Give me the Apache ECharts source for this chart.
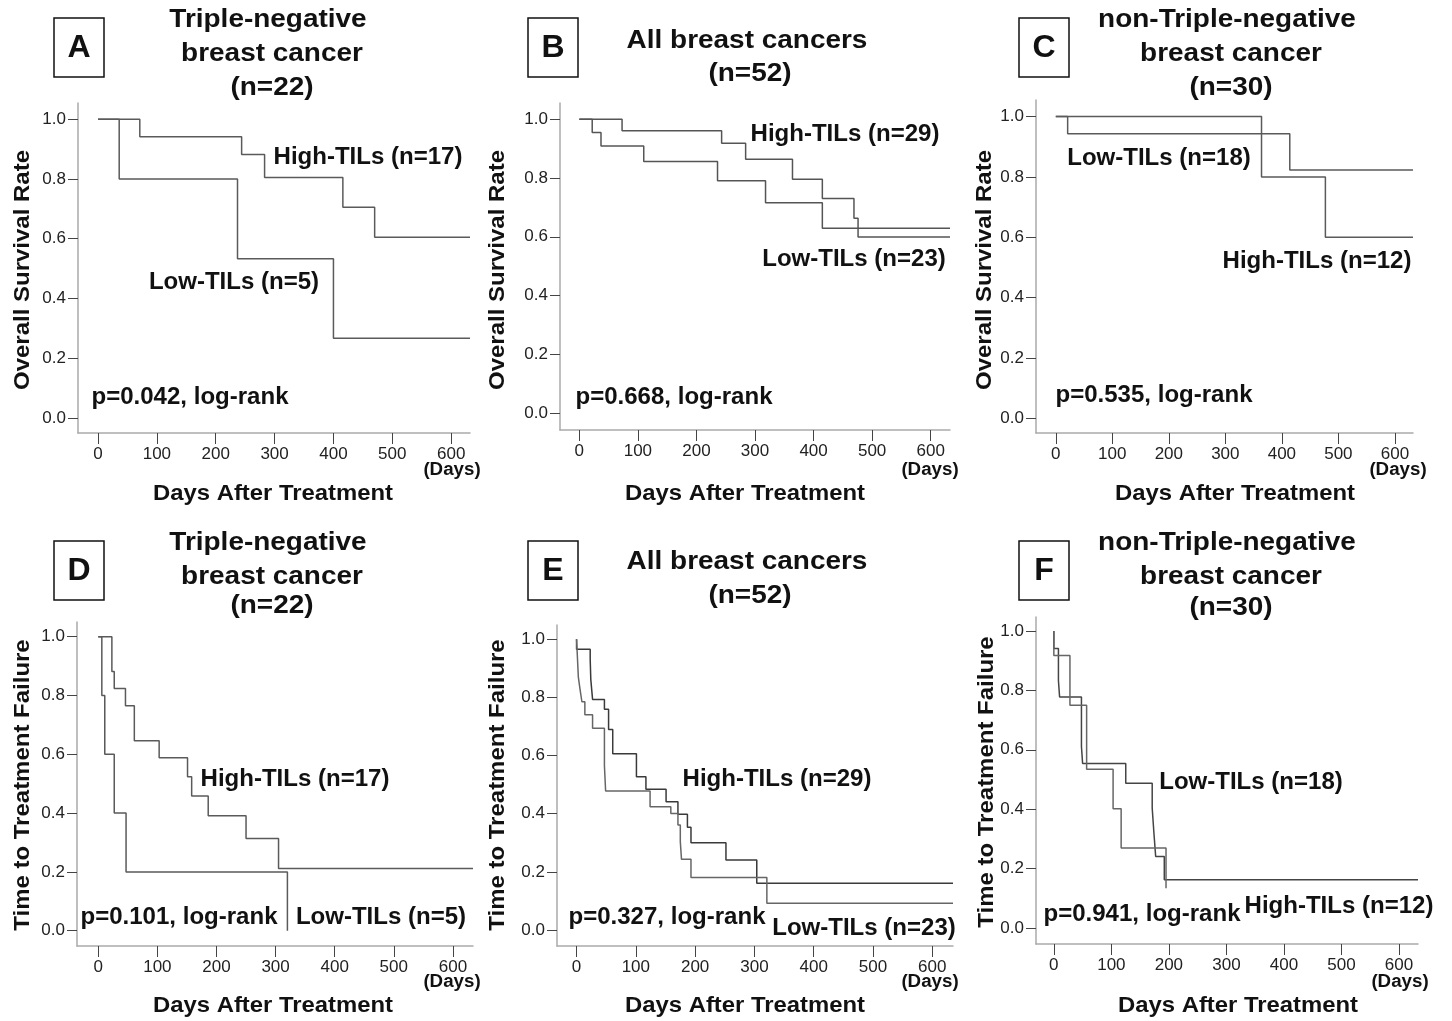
<!DOCTYPE html>
<html>
<head>
<meta charset="utf-8">
<script src="https://cdn.jsdelivr.net/npm/echarts@6/dist/echarts.min.js"></script>
<style>
  html, body { margin: 0; padding: 0; background: #fff; }
  #chart { width: 1452px; height: 1021px; }
</style>
</head>
<body>
<div id="chart"></div>
<script>
// Kaplan-Meier curves, values (days, rate after each drop)

// A: triple-negative, overall survival
const aHighDays = [0, 71, 244, 283, 416, 470, 632];
const aHighRate = [1.0, 0.941, 0.882, 0.805, 0.705, 0.605, 0.605];
const aLowDays = [0, 36, 237, 400, 632];
const aLowRate = [1.0, 0.8, 0.533, 0.267, 0.267];

// B: all breast cancers, overall survival
const bHighDays = [0, 73, 243, 284, 364, 415, 469, 476, 633];
const bHighRate = [1.0, 0.961, 0.918, 0.864, 0.796, 0.730, 0.663, 0.599, 0.599];
const bLowDays = [0, 22, 37, 110, 236, 318, 415, 633];
const bLowRate = [1.0, 0.955, 0.909, 0.856, 0.791, 0.716, 0.629, 0.629];

// C: non-triple-negative, overall survival
const cLowDays = [0, 21, 414, 632];
const cLowRate = [1.0, 0.943, 0.823, 0.823];
const cHighDays = [0, 364, 477, 632];
const cHighRate = [1.0, 0.8, 0.6, 0.6];

// D: triple-negative, time to treatment failure
const dHighDays = [0, 23, 27, 46, 61, 103, 151, 158, 186, 250, 305, 634];
const dHighRate = [1.0, 0.882, 0.824, 0.765, 0.646, 0.588, 0.524, 0.458, 0.391, 0.314, 0.212, 0.212];
const dLowDays = [0, 6, 11, 27, 47, 320];
const dLowRate = [1.0, 0.8, 0.6, 0.4, 0.2, 0.0];

// E: all breast cancers, time to treatment failure
const eHighDays = [0, 0, 23, 24, 27, 47, 54, 61, 101, 117, 151, 171, 187, 193, 252, 304, 635];
const eHighRate = [1.0, 0.966, 0.931, 0.862, 0.793, 0.759, 0.690, 0.606, 0.527, 0.484, 0.441, 0.398, 0.353, 0.300, 0.241, 0.161, 0.161];
const eLowDays = [0, 1, 3, 6, 9, 14, 27, 47, 48, 49, 124, 159, 171, 175, 177, 193, 321, 635];
const eLowRate = [1.0, 0.957, 0.870, 0.826, 0.785, 0.740, 0.694, 0.565, 0.522, 0.478, 0.424, 0.401, 0.361, 0.304, 0.243, 0.181, 0.092, 0.092];

// F: non-triple-negative, time to treatment failure
const fLowDays = [0, 0, 8, 10, 48, 50, 125, 171, 174, 177, 192, 633];
const fLowRate = [1.0, 0.941, 0.833, 0.778, 0.611, 0.554, 0.487, 0.403, 0.319, 0.241, 0.162, 0.162];
const fHighDays = [0, 0, 28, 57, 103, 117, 195];
const fHighRate = [1.0, 0.917, 0.75, 0.534, 0.401, 0.269, 0.134];

const xTicks = [0, 100, 200, 300, 400, 500, 600];
const yTicks = [0, 0.2, 0.4, 0.6, 0.8, 1.0];

// panel geometry (pixels) and axis extents
const panels = [
  { left: 78,   top: 103, width: 392, height: 330, xMin: -34, xMax: 632, yMin: -0.050, yMax: 1.054 },
  { left: 560,  top: 103, width: 390, height: 327, xMin: -33, xMax: 633, yMin: -0.057, yMax: 1.055 },
  { left: 1036, top: 100, width: 377, height: 333, xMin: -35, xMax: 632, yMin: -0.049, yMax: 1.055 },
  { left: 77,   top: 622, width: 396, height: 324, xMin: -36, xMax: 634, yMin: -0.052, yMax: 1.050 },
  { left: 557,  top: 625, width: 396, height: 321, xMin: -33, xMax: 635, yMin: -0.055, yMax: 1.049 },
  { left: 1036, top: 617, width: 382, height: 327, xMin: -31, xMax: 633, yMin: -0.054, yMax: 1.047 }
];

const FONT = '"Liberation Sans", Arial, sans-serif';

const grids = panels.map(p => ({ left: p.left, top: p.top, width: p.width, height: p.height }));

const xAxes = panels.map((p, i) => ({
  type: 'value', gridIndex: i, min: p.xMin, max: p.xMax,
  axisLine: { show: true, onZero: false, lineStyle: { color: '#aaa', width: 1.5 } },
  axisTick: { show: true, length: 11, customValues: xTicks, lineStyle: { color: '#444', width: 1 } },
  axisLabel: { customValues: xTicks, margin: 13, fontSize: 17, color: '#222', fontFamily: FONT },
  splitLine: { show: false }
}));

const yAxes = panels.map((p, i) => ({
  type: 'value', gridIndex: i, min: p.yMin, max: p.yMax,
  axisLine: { show: true, onZero: false, lineStyle: { color: '#aaa', width: 1.5 } },
  axisTick: { show: true, length: 10, customValues: yTicks, lineStyle: { color: '#444', width: 1 } },
  axisLabel: { customValues: yTicks, margin: 12, fontSize: 17, color: '#222', fontFamily: FONT,
    formatter: v => v.toFixed(1) },
  splitLine: { show: false }
}));

const km = (days, rate, idx, color) => ({
  type: 'line', step: 'end', xAxisIndex: idx, yAxisIndex: idx,
  data: days.map((d, i) => [d, rate[i]]),
  showSymbol: false, silent: true,
  lineStyle: { color: color, width: 1.5 }
});

const series = [
  km(aHighDays, aHighRate, 0, '#5a5a5a'),
  km(aLowDays, aLowRate, 0, '#5a5a5a'),
  km(bHighDays, bHighRate, 1, '#555'),
  km(bLowDays, bLowRate, 1, '#555'),
  km(cLowDays, cLowRate, 2, '#5a5a5a'),
  km(cHighDays, cHighRate, 2, '#5a5a5a'),
  km(dHighDays, dHighRate, 3, '#5a5a5a'),
  km(dLowDays, dLowRate, 3, '#5a5a5a'),
  km(eHighDays, eHighRate, 4, '#3a3a3a'),
  km(eLowDays, eLowRate, 4, '#666'),
  km(fLowDays, fLowRate, 5, '#444'),
  km(fHighDays, fHighRate, 5, '#666')
];

// text helpers (the figure's lettering is a little wider than Arial, hence scaleX)
const txt = (x, y, s, size, sx, rot) => ({
  type: 'text', x: x, y: y, rotation: rot || 0, scaleX: sx || 1, silent: true,
  style: { text: s, font: 'bold ' + size + 'px ' + FONT, fill: '#111', align: 'center', verticalAlign: 'middle' }
});
const title = (x, y, s) => txt(x, y, s, 26, 1.075);
const note = (x, y, s) => txt(x, y, s, 23, 1.045);
const box = (x, y, letter) => ([
  { type: 'rect', shape: { x: x, y: y, width: 50, height: 59 }, style: { fill: '#fff', stroke: '#111', lineWidth: 1.5 } },
  txt(x + 25, y + 30, letter, 32)
]);

const graphic = [];
// panel letters
graphic.push(...box(54, 18, 'A'), ...box(528, 18, 'B'), ...box(1019, 18, 'C'));
graphic.push(...box(54, 541, 'D'), ...box(528, 541, 'E'), ...box(1019, 541, 'F'));
// titles
graphic.push(title(268, 20, 'Triple-negative'), title(272, 54, 'breast cancer'), title(272, 88, '(n=22)'));
graphic.push(title(747, 41, 'All breast cancers'), title(750, 74, '(n=52)'));
graphic.push(title(1227, 20, 'non-Triple-negative'), title(1231, 54, 'breast cancer'), title(1231, 88, '(n=30)'));
graphic.push(title(268, 543, 'Triple-negative'), title(272, 577, 'breast cancer'), title(272, 606, '(n=22)'));
graphic.push(title(747, 562, 'All breast cancers'), title(750, 596, '(n=52)'));
graphic.push(title(1227, 543, 'non-Triple-negative'), title(1231, 577, 'breast cancer'), title(1231, 608, '(n=30)'));
// axis titles
graphic.push(txt(23, 270, 'Overall Survival Rate', 22, 1.09, Math.PI / 2));
graphic.push(txt(498, 270, 'Overall Survival Rate', 22, 1.09, Math.PI / 2));
graphic.push(txt(985, 270, 'Overall Survival Rate', 22, 1.09, Math.PI / 2));
graphic.push(txt(23, 785, 'Time to Treatment Failure', 22, 1.09, Math.PI / 2));
graphic.push(txt(498, 785, 'Time to Treatment Failure', 22, 1.09, Math.PI / 2));
graphic.push(txt(987, 782, 'Time to Treatment Failure', 22, 1.09, Math.PI / 2));
[[273, 494], [745, 494], [1235, 494], [273, 1006], [745, 1006], [1238, 1006]].forEach(p => {
  graphic.push(txt(p[0], p[1], 'Days After Treatment', 22, 1.085));
});
[[452, 470], [930, 470], [1398, 470], [452, 982], [930, 982], [1400, 982]].forEach(p => {
  graphic.push(txt(p[0], p[1], '(Days)', 18, 1.04));
});
// curve labels and p-values
graphic.push(note(368, 158, 'High-TILs (n=17)'), note(234, 283, 'Low-TILs (n=5)'), note(190, 398, 'p=0.042, log-rank'));
graphic.push(note(845, 135, 'High-TILs (n=29)'), note(854, 260, 'Low-TILs (n=23)'), note(674, 398, 'p=0.668, log-rank'));
graphic.push(note(1159, 159, 'Low-TILs (n=18)'), note(1317, 262, 'High-TILs (n=12)'), note(1154, 396, 'p=0.535, log-rank'));
graphic.push(note(295, 780, 'High-TILs (n=17)'), note(179, 918, 'p=0.101, log-rank'), note(381, 918, 'Low-TILs (n=5)'));
graphic.push(note(777, 780, 'High-TILs (n=29)'), note(667, 918, 'p=0.327, log-rank'), note(864, 929, 'Low-TILs (n=23)'));
graphic.push(note(1251, 783, 'Low-TILs (n=18)'), note(1142, 915, 'p=0.941, log-rank'), note(1339, 907, 'High-TILs (n=12)'));

const chart = echarts.init(document.getElementById('chart'), null, { renderer: 'canvas' });
chart.setOption({
  backgroundColor: '#fff',
  animation: false,
  grid: grids,
  xAxis: xAxes,
  yAxis: yAxes,
  series: series,
  graphic: graphic
});
</script>
</body>
</html>
